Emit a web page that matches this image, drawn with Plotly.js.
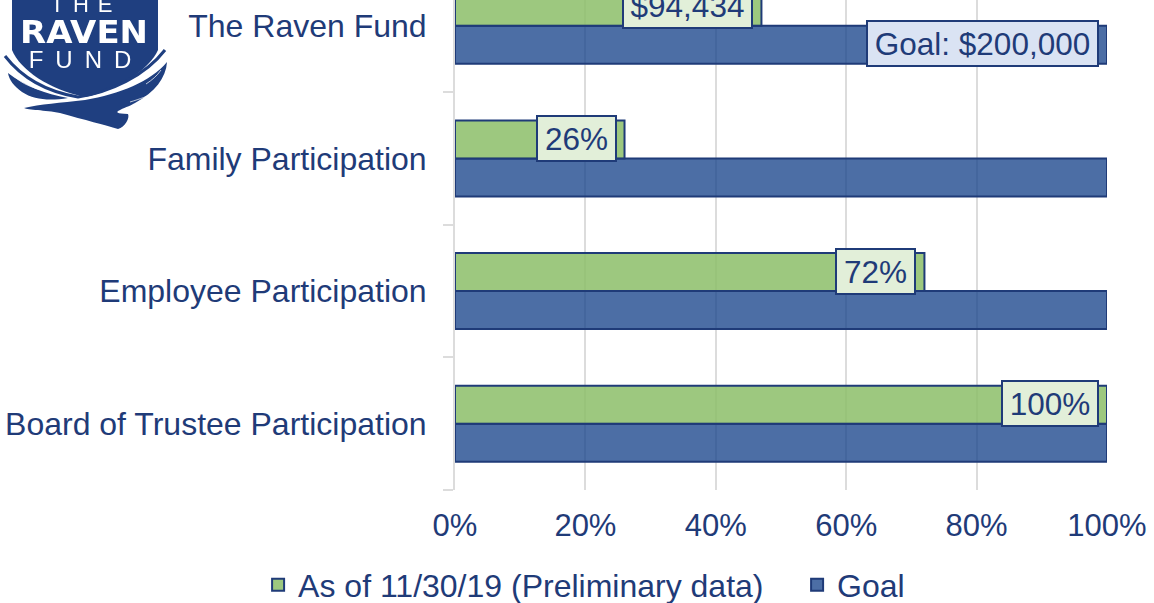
<!DOCTYPE html>
<html><head><meta charset="utf-8">
<script src="https://cdn.plot.ly/plotly-3.0.1.min.js"></script>
<style>html,body{margin:0;padding:0;background:#fff;overflow:hidden}#c{width:1154px;height:603px}
#logo{position:absolute;left:0;top:0;pointer-events:none;filter:blur(0.5px)}</style></head>
<body><div id="c"></div>
<svg id="logo" width="175" height="135" viewBox="0 0 175 135">
<path fill="#1f3f80" d="M12,-5H158V50C150,68 120,90 85,97C50,90 20,70 12,50Z"/>
<path fill="none" stroke="#1f3f80" stroke-width="3" d="M5,56C22,78 48,92 78,97C110,92 145,76 165,50"/>
<path fill="#1f3f80" d="M8,73C25,86 45,94 68,98C50,101 34,100 22,92C14,86 9,80 8,73Z"/>
<path fill="#1f3f80" d="M167,62C166,78 155,92 135,103C125,109 105,113 128,114C130,118 125,127 118,129C105,125 85,120 60,113C45,110 28,110 24,108C40,104 60,103 85,100C120,94 150,82 167,62Z"/>
<path fill="none" stroke="#fff" stroke-width="1" opacity="0.7" d="M130,102C140,99 148,96 154,93M146,84C152,80 157,76 161,70M14,76C20,82 28,86 38,89"/>
<text x="86" y="12" text-anchor="middle" fill="#fff" font-family="Liberation Sans" font-size="22" letter-spacing="9">THE</text>
<text x="84" y="43" text-anchor="middle" fill="#fff" font-family="DejaVu Sans" font-weight="bold" font-size="32" textLength="128" lengthAdjust="spacingAndGlyphs">RAVEN</text>
<text x="86" y="68" text-anchor="middle" fill="#fff" font-family="Liberation Sans" font-size="24" letter-spacing="12">FUND</text>
</svg>
<script>
const categories = ["Board of Trustee Participation", "Employee Participation", "Family Participation", "The Raven Fund"];
const asOfValues = [1.00, 0.72, 0.26, 0.47];
const goalValues = [1, 1, 1, 1];
const asOfLabels = ["100%", "72%", "26%", "$94,434"];
const goalLabels = ["", "", "", "Goal: $200,000"];
const xTicks = [0, 0.2, 0.4, 0.6, 0.8, 1];
const xTickText = ["0%", "20%", "40%", "60%", "80%", "100%"];
const ink = "#1f3b78", font = "Liberation Sans, Arial, sans-serif";

const box = (i, text, y, bg, w) => ({
  xref: "x", yref: "y", x: i, y, xanchor: "right", yanchor: "middle", xshift: -8, yshift: 1,
  text, showarrow: false, bgcolor: bg, bordercolor: ink, borderwidth: 2,
  width: w, height: 43, borderpad: 0, font: {family: font, size: 31.5, color: ink}
});
const annotations = [];
asOfLabels.forEach((t, i) => annotations.push(box(asOfValues[i], t, i + 0.143, "#e2efd9", t.length > 4 ? 127 : (t.length > 3 ? 94 : 77))));
goalLabels.forEach((t, i) => { if (t) annotations.push(box(goalValues[i], t, i - 0.143, "#dae3f3", 229)); });

Plotly.newPlot("c", [
  {type: "bar", orientation: "h", name: "Goal", y: categories, x: goalValues, legendrank: 2,
   marker: {color: "rgba(26,69,140,0.78)", line: {color: ink, width: 2}}},
  {type: "bar", orientation: "h", name: "As of 11/30/19 (Preliminary data)", y: categories, x: asOfValues, legendrank: 1,
   marker: {color: "rgba(140,190,105,0.85)", line: {color: ink, width: 2}}}
], {
  width: 1154, height: 603, paper_bgcolor: "#fff", plot_bgcolor: "#fff",
  margin: {l: 455, r: 47, t: 0, b: 113, autoexpand: false},
  barmode: "group", bargap: 0.427, bargroupgap: 0, showlegend: true,
  font: {family: font, size: 30, color: ink},
  xaxis: {range: [0, 1], tickvals: xTicks, ticktext: xTickText, showgrid: true, gridcolor: "#dcdcdc", gridwidth: 2,
          zeroline: false, showline: false, ticks: "", ticklabelstandoff: 14, automargin: false,
          tickfont: {family: font, size: 31, color: ink}},
  yaxis: {type: "category", categoryorder: "array", categoryarray: categories, range: [-0.5, 3.195],
          showgrid: false, zeroline: false, showline: true, linecolor: "#dcdcdc", linewidth: 2,
          ticks: "outside", ticklen: 10, tickcolor: "#dcdcdc", tickwidth: 2, tickson: "boundaries",
          ticklabelstandoff: 20, ticklabelshift: -2.5, automargin: false, tickfont: {family: font, size: 32, color: ink}},
  legend: {orientation: "h", x: -0.302, y: -0.194, xanchor: "left", yanchor: "middle", bgcolor: "rgba(0,0,0,0)",
           font: {family: font, size: 32, color: ink}, tracegroupgap: 0,
           entrywidth: 494, entrywidthmode: "pixels"},
  annotations
}, {displayModeBar: false, staticPlot: true});
</script></body></html>
